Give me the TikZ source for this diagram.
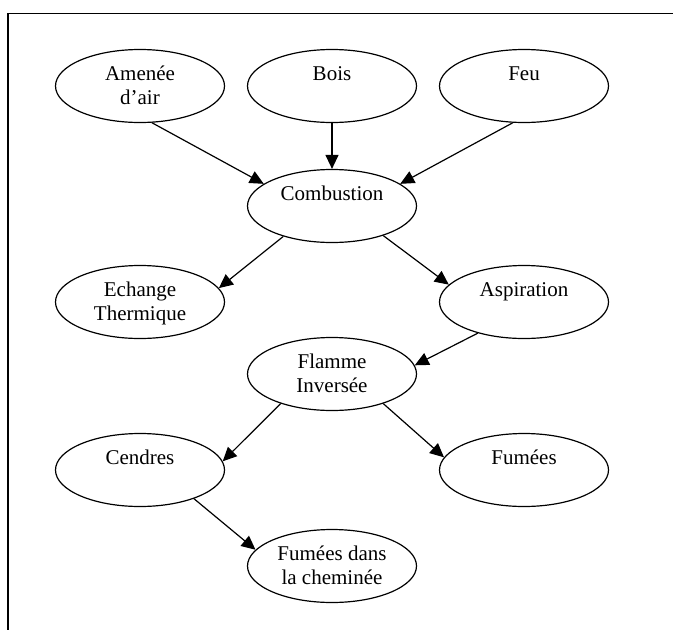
\documentclass[tikz,border=0pt]{standalone}
\usepackage{fontspec}
\setmainfont{Liberation Serif}
\usetikzlibrary{shapes.geometric,arrows.meta}
\begin{document}
\begin{tikzpicture}[x=1pt,y=-1pt,
  bulle/.style={draw,ellipse,line width=1.2pt,minimum width=169pt,minimum height=73pt,
    inner sep=1pt,align=center,text height=14pt,text depth=26pt,
    font=\fontsize{21}{24.5}\selectfont},
  deux/.style={bulle,text height=38.5pt,text depth=1.5pt},
  fleche/.style={-{Triangle[length=14pt,width=13pt]},line width=1.2pt}]
    \useasboundingbox (0,0) rectangle (673,630);
    \draw[line width=1.5pt] (673,13.5) -- (8,13.5) -- (8,630);
    \node[deux]  (amenee)   at (140,86)  {Amenée\\d’air};
    \node[bulle] (bois)     at (332,86)  {Bois};
    \node[bulle] (feu)      at (524,86)  {Feu};
    \node[bulle] (comb)     at (332,206) {Combustion};
    \node[deux]  (echange)  at (140,302) {Echange\\Thermique};
    \node[bulle] (aspir)    at (524,302) {Aspiration};
    \node[deux]  (flamme)   at (332,374) {Flamme\\Inversée};
    \node[bulle] (cendres)  at (140,470) {Cendres};
    \node[bulle] (fumees)   at (524,470) {Fumées};
    \node[deux]  (chemin)   at (332,566) {Fumées dans\\la cheminée};
    \draw[fleche] (amenee.-72) -- (comb.162);
    \draw[fleche] (bois.south) -- (comb.north);
    \draw[fleche] (feu.-107) -- (comb.18);
    \draw[fleche] (comb.-148) -- (echange.10);
    \draw[fleche] (comb.-30) -- (aspir.167);
    \draw[fleche] (aspir.-146) -- (flamme.6);
    \draw[fleche] (flamme.-150) -- (cendres.6);
    \draw[fleche] (flamme.-30) -- (fumees.171);
    \draw[fleche] (cendres.-28) -- (chemin.168);
\end{tikzpicture}
\end{document}
